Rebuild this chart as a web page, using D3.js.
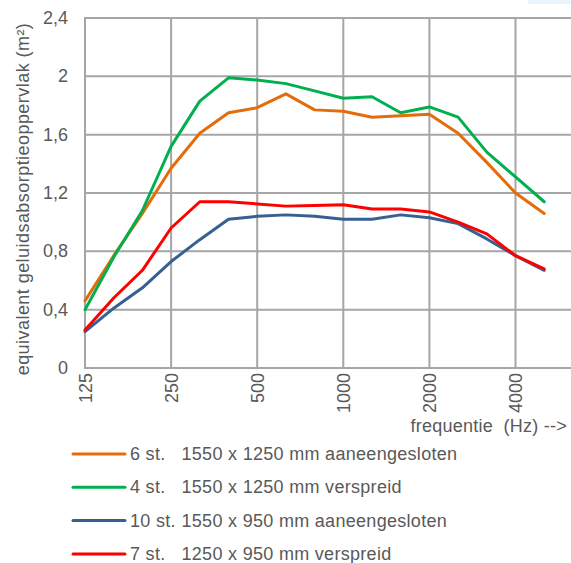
<!DOCTYPE html>
<html>
<head>
<meta charset="utf-8">
<script src="https://cdn.jsdelivr.net/npm/d3@7.9.0/dist/d3.min.js"></script>
<style>
  body { margin: 0; background: #fff; }
  svg { display: block; font-family: "Liberation Sans", Arial, sans-serif; }
  text { fill: #595959; white-space: pre; }
</style>
</head>
<body>
<svg id="chart" width="571" height="563"></svg>
<script>
// frequency bands (1/3 octave), only every third one gets a label
const freqs = ['125', '160', '200', '250', '315', '400', '500', '630', '800',
  '1000', '1250', '1600', '2000', '2500', '3150', '4000', '5000'];
const yTicks = [0, 0.4, 0.8, 1.2, 1.6, 2, 2.4];

const sixAaneen = [0.46, 0.77, 1.06, 1.37, 1.61, 1.75, 1.785, 1.88, 1.77, 1.76, 1.72, 1.73, 1.74, 1.61, 1.41, 1.20, 1.06];
const fourVerspreid = [0.40, 0.76, 1.08, 1.52, 1.83, 1.99, 1.975, 1.95, 1.90, 1.85, 1.86, 1.75, 1.79, 1.72, 1.48, 1.31, 1.14];
const tenAaneen = [0.25, 0.41, 0.55, 0.73, 0.88, 1.02, 1.04, 1.05, 1.04, 1.02, 1.02, 1.05, 1.03, 0.99, 0.885, 0.77, 0.67];
const sevenVerspreid = [0.26, 0.48, 0.67, 0.96, 1.14, 1.14, 1.125, 1.11, 1.115, 1.12, 1.09, 1.09, 1.07, 1.00, 0.92, 0.77, 0.68];

const seriesNames = [
  ['6 st.', '1550 x 1250 mm aaneengesloten'],
  ['4 st.', '1550 x 1250 mm verspreid'],
  ['10 st.', '1550 x 950 mm aaneengesloten'],
  ['7 st.', '1250 x 950 mm verspreid']
];
const seriesValues = [sixAaneen, fourVerspreid, tenAaneen, sevenVerspreid];
const colors = ['#E46C0A', '#00B050', '#376092', '#FF0000'];

const svg = d3.select('#chart');
const plotLeft = 85, plotTop = 18, plotBottom = 368, plotRight = 571;

const x = d3.scaleLinear().domain([0, freqs.length - 1]).range([plotLeft, 544.2]);
const y = d3.scaleLinear().domain([0, 2.4]).range([plotBottom, plotTop]);

// little light-blue strip in the top right corner
svg.append('rect')
  .attr('x', 528).attr('y', 0).attr('width', 43).attr('height', 4)
  .attr('fill', '#EAF4FC');

// horizontal grid
svg.append('g')
  .selectAll('line')
  .data(yTicks)
  .join('line')
  .attr('x1', plotLeft - 1).attr('x2', plotRight)
  .attr('y1', d => y(d)).attr('y2', d => y(d))
  .attr('stroke', '#A6A6A6').attr('stroke-width', 2);

// vertical grid on labelled bands
const labelled = freqs.map((f, i) => i).filter(i => i % 3 === 0);
svg.append('g')
  .selectAll('line')
  .data(labelled)
  .join('line')
  .attr('x1', d => x(d)).attr('x2', d => x(d))
  .attr('y1', plotTop).attr('y2', plotBottom + 1)
  .attr('stroke', '#A6A6A6').attr('stroke-width', 2);

// y tick labels
svg.append('g')
  .selectAll('text')
  .data(yTicks)
  .join('text')
  .attr('x', 68)
  .attr('y', d => y(d) + 6)
  .attr('text-anchor', 'end')
  .attr('font-size', 18)
  .text(d => String(d).replace('.', ','));

// x tick labels, rotated
svg.append('g')
  .selectAll('text')
  .data(labelled)
  .join('text')
  .attr('transform', d => `translate(${x(d) + 6.5},373) rotate(-90)`)
  .attr('text-anchor', 'end')
  .attr('font-size', 18)
  .text(d => freqs[d]);

// axis titles
svg.append('text')
  .attr('transform', 'translate(29,199) rotate(-90)')
  .attr('text-anchor', 'middle')
  .attr('font-size', 18)
  .attr('letter-spacing', 0.45)
  .text('equivalent geluidsabsorptieoppervlak (m²)');

svg.append('text')
  .attr('x', 567).attr('y', 432)
  .attr('text-anchor', 'end')
  .attr('font-size', 18)
  .attr('letter-spacing', 0.25)
  .text('frequentie  (Hz) -->');

// series lines
const line = d3.line().x((d, i) => x(i)).y(d => y(d));
seriesValues.forEach((vals, idx) => {
  svg.append('path')
    .attr('d', line(vals))
    .attr('fill', 'none')
    .attr('stroke', colors[idx])
    .attr('stroke-width', 3)
    .attr('stroke-linejoin', 'round')
    .attr('stroke-linecap', 'round');
});

// legend
const legend = svg.append('g');
seriesNames.forEach((name, idx) => {
  const ly = 454 + idx * 33.3;
  legend.append('line')
    .attr('x1', 73).attr('x2', 125)
    .attr('y1', ly).attr('y2', ly)
    .attr('stroke', colors[idx])
    .attr('stroke-width', 3)
    .attr('stroke-linecap', 'round');
  legend.append('text')
    .attr('x', 130).attr('y', ly + 6)
    .attr('font-size', 18)
    .attr('letter-spacing', 0.3)
    .text(name[0]);
  legend.append('text')
    .attr('x', 181.5).attr('y', ly + 6)
    .attr('font-size', 18)
    .attr('letter-spacing', 0.3)
    .text(name[1]);
});
</script>
</body>
</html>
